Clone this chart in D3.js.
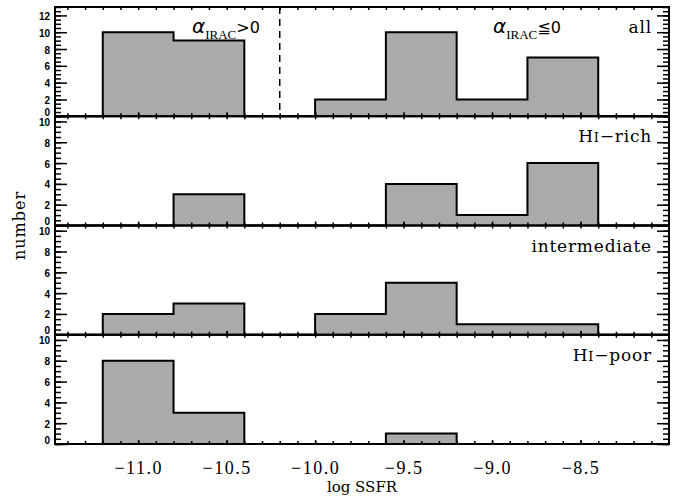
<!DOCTYPE html>
<html>
<head>
<meta charset="utf-8">
<script src="https://cdn.jsdelivr.net/npm/d3@7"></script>
<style>
  body { margin: 0; background: #fff; }
  svg { display: block; }
</style>
</head>
<body>
<div id="app"></div>
<script>
// histogram bins (log SSFR) and counts per sample
const binEdges = [-11.2, -10.8, -10.4, -10.0, -9.6, -9.2, -8.8, -8.4];
const allCounts = [10, 9, 0, 2, 10, 2, 7];
const hiRichCounts = [0, 3, 0, 0, 4, 1, 6];
const intermediateCounts = [2, 3, 0, 2, 5, 1, 1];
const hiPoorCounts = [8, 3, 0, 0, 1, 0, 0];

const xDomain = [-11.47, -8.0];
const xTickLabels = [-11.0, -10.5, -10.0, -9.5, -9.0, -8.5];
const yTicksTop = [0, 2, 4, 6, 8, 10, 12];
const yTicksLow = [0, 2, 4, 6, 8, 10];
const alphaSplit = -10.2;

const W = 681, H = 497;
const plotLeft = 55, plotRight = 669, plotTop = 7, plotBottom = 444;
const panelH = (plotBottom - plotTop) / 4;

const svg = d3.select('#app')
  .append('svg')
  .attr('width', W)
  .attr('height', H)
  .attr('viewBox', `0 0 ${W} ${H}`);

const x = d3.scaleLinear().domain(xDomain).range([plotLeft, plotRight]);

const panels = [
  { label: 'all', counts: allCounts, yMax: 13, yTicks: yTicksTop },
  { label: 'HI-rich', counts: hiRichCounts, yMax: 10.5, yTicks: yTicksLow },
  { label: 'intermediate', counts: intermediateCounts, yMax: 10.5, yTicks: yTicksLow },
  { label: 'HI-poor', counts: hiPoorCounts, yMax: 10.5, yTicks: yTicksLow }
];

const stepData = (counts) => {
  const pts = [[xDomain[0], 0]];
  counts.forEach((c, i) => pts.push([binEdges[i], c]));
  pts.push([binEdges[binEdges.length - 1], 0]);
  pts.push([xDomain[1], 0]);
  return pts;
};

const cleanAxis = (g) => {
  g.select('.domain').remove();
  g.selectAll('line').attr('stroke', '#000').attr('stroke-width', 1.5);
};

const minorX = d3.range(-11.4, -8.0, 0.1).map(d => +d.toFixed(1));
const majorX = minorX.filter(d => Math.abs(d * 2 - Math.round(d * 2)) < 1e-6);

panels.forEach((p, i) => {
  const y0 = plotTop + i * panelH;
  const y1 = y0 + panelH;
  const y = d3.scaleLinear().domain([0, p.yMax]).range([y1, y0]);
  const g = svg.append('g');

  const pts = stepData(p.counts);

  g.append('path')
    .datum(pts)
    .attr('fill', '#aaaaaa')
    .attr('d', d3.area()
      .x(d => x(d[0]))
      .y0(y(0))
      .y1(d => y(d[1]))
      .curve(d3.curveStepAfter));

  g.append('path')
    .datum(pts)
    .attr('fill', 'none')
    .attr('stroke', '#000')
    .attr('stroke-width', 2)
    .attr('d', d3.line()
      .x(d => x(d[0]))
      .y(d => y(d[1]))
      .curve(d3.curveStepAfter));

  // y ticks, left and right, pointing inward
  const minorY = d3.range(0, p.yMax + 0.01, 0.5);
  g.append('g')
    .attr('transform', `translate(${plotLeft},0)`)
    .call(d3.axisLeft(y).tickValues(minorY).tickSize(-6).tickFormat(''))
    .call(cleanAxis);
  g.append('g')
    .attr('transform', `translate(${plotLeft},0)`)
    .call(d3.axisLeft(y).tickValues(p.yTicks).tickSize(-12).tickFormat(''))
    .call(cleanAxis);
  g.append('g')
    .attr('transform', `translate(${plotRight},0)`)
    .call(d3.axisRight(y).tickValues(minorY).tickSize(-6).tickFormat(''))
    .call(cleanAxis);
  g.append('g')
    .attr('transform', `translate(${plotRight},0)`)
    .call(d3.axisRight(y).tickValues(p.yTicks).tickSize(-12).tickFormat(''))
    .call(cleanAxis);

  // y tick labels
  const yl = g.append('g')
    .attr('transform', `translate(${plotLeft},0)`)
    .call(d3.axisLeft(y).tickValues(p.yTicks).tickSize(0).tickPadding(5).tickFormat(d3.format('d')));
  yl.select('.domain').remove();
  yl.selectAll('text')
    .attr('font-family', 'Liberation Sans, Arial, sans-serif')
    .attr('font-weight', 'bold')
    .attr('font-size', 10)
    .attr('fill', '#000')
    .attr('dy', d => d === 0 ? '-0.1em' : '0.4em');

  // x ticks on top and bottom of the panel
  g.append('g')
    .attr('transform', `translate(0,${y0})`)
    .call(d3.axisTop(x).tickValues(minorX).tickSize(-3).tickFormat(''))
    .call(cleanAxis);
  g.append('g')
    .attr('transform', `translate(0,${y1})`)
    .call(d3.axisBottom(x).tickValues(minorX).tickSize(-3).tickFormat(''))
    .call(cleanAxis);
  g.append('g')
    .attr('transform', `translate(0,${y1})`)
    .call(d3.axisBottom(x).tickValues(majorX).tickSize(-4).tickFormat(''))
    .call(cleanAxis);

  // frame
  g.append('rect')
    .attr('x', plotLeft)
    .attr('y', y0)
    .attr('width', plotRight - plotLeft)
    .attr('height', panelH)
    .attr('fill', 'none')
    .attr('stroke', '#000')
    .attr('stroke-width', 2);

  // panel label
  const t = g.append('text')
    .attr('x', 652)
    .attr('y', y0 + 26)
    .attr('text-anchor', 'end')
    .attr('font-family', 'DejaVu Serif, serif')
    .attr('font-size', 17)
    .attr('letter-spacing', 0.8)
    .attr('fill', '#000');
  if (p.label.startsWith('HI')) {
    t.append('tspan').text('H');
    t.append('tspan').attr('font-size', 13).text('I');
    t.append('tspan').text('\u2212' + p.label.slice(3));
  } else {
    t.text(p.label);
  }

  if (i === 0) {
    g.append('line')
      .attr('x1', x(alphaSplit))
      .attr('x2', x(alphaSplit))
      .attr('y1', y0)
      .attr('y2', y1)
      .attr('stroke', '#000')
      .attr('stroke-width', 1.5)
      .attr('stroke-dasharray', '7,5');
  }
});

// alpha labels in the top panel
const alphaLabel = (xPos, rel) => {
  const t = svg.append('text')
    .attr('x', xPos)
    .attr('y', plotTop + 26)
    .attr('fill', '#000');
  t.append('tspan')
    .attr('font-family', 'DejaVu Sans, sans-serif')
    .attr('font-style', 'italic')
    .attr('font-size', 20)
    .text('\u03b1');
  t.append('tspan')
    .attr('font-family', 'Liberation Serif, serif')
    .attr('font-size', 13)
    .attr('dy', 6)
    .text('IRAC');
  t.append('tspan')
    .attr('font-family', 'DejaVu Sans, sans-serif')
    .attr('font-size', 16)
    .attr('dy', -6)
    .text(rel + '0');
};
alphaLabel(192, '>');
alphaLabel(493, '\u2266');

// x tick labels
const xl = svg.append('g')
  .attr('transform', `translate(0,${plotBottom})`)
  .call(d3.axisBottom(x).tickValues(xTickLabels).tickSize(0).tickFormat(d3.format('.1f')));
xl.select('.domain').remove();
xl.selectAll('text')
  .attr('y', 30)
  .attr('dy', 0)
  .attr('font-family', 'Liberation Serif, serif')
  .attr('font-size', 18)
  .attr('letter-spacing', 1.5)
  .attr('fill', '#000');

svg.append('text')
  .attr('x', (plotLeft + plotRight) / 2)
  .attr('y', 492)
  .attr('text-anchor', 'middle')
  .attr('font-family', 'DejaVu Serif, serif')
  .attr('font-size', 15)
  .attr('fill', '#000')
  .text('log SSFR');

svg.append('text')
  .attr('transform', `translate(25,${(plotTop + plotBottom) / 2}) rotate(-90)`)
  .attr('text-anchor', 'middle')
  .attr('font-family', 'DejaVu Serif, serif')
  .attr('font-size', 16)
  .attr('letter-spacing', 1)
  .attr('fill', '#000')
  .text('number');
</script>
</body>
</html>
